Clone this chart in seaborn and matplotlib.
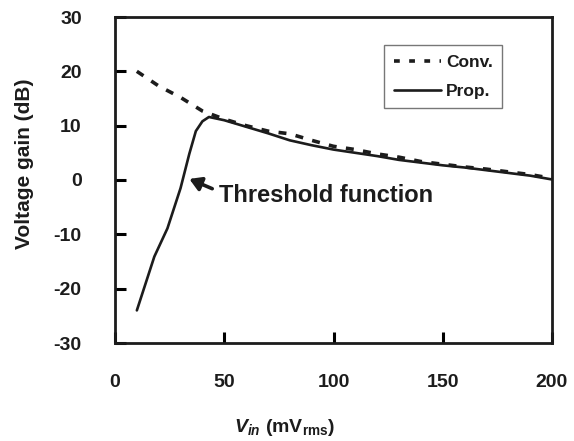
import matplotlib
matplotlib.use("Agg")
import matplotlib.pyplot as plt
import seaborn as sns
import pandas as pd

sns.set_theme(style="ticks")
ink = "#1c1c1c"
plt.rcParams.update({
    'font.family': ['Liberation Sans', 'DejaVu Sans'],
    'mathtext.fontset': 'custom',
    'mathtext.rm': 'Liberation Sans:bold',
    'mathtext.it': 'Liberation Sans:bold:italic',
    'mathtext.bf': 'Liberation Sans:bold',
})

conv_x = [10, 20, 30, 40, 50, 60, 70, 80, 90, 100, 110, 120, 130, 140, 150, 160, 170, 180, 190, 200]
conv_y = [20, 17.3, 15.2, 12.7, 11.2, 10.0, 9.0, 8.5, 7.3, 6.2, 5.6, 4.8, 4.2, 3.4, 2.9, 2.4, 2.0, 1.5, 1.0, 0.3]

prop_x = [10, 18, 24, 30, 34, 37, 40, 43, 50, 60, 70, 80, 90, 100, 110, 120, 130, 140, 150, 160, 170, 180, 190, 200]
prop_y = [-24, -14.1, -8.9, -1.5, 4.8, 9.0, 10.8, 11.6, 11.0, 9.8, 8.6, 7.3, 6.4, 5.6, 5.0, 4.4, 3.7, 3.2, 2.7, 2.3, 1.8, 1.3, 0.8, 0.1]

x_ticks = [0, 50, 100, 150, 200]
y_ticks = [-30, -20, -10, 0, 10, 20, 30]

conv = pd.DataFrame({"x": conv_x, "y": conv_y})
prop = pd.DataFrame({"x": prop_x, "y": prop_y})

fig = plt.figure(figsize=(5.74, 4.41), dpi=100)
ax = fig.add_axes([115/574, 1-343/441, (552-115)/574, (343-17)/441])

sns.lineplot(data=conv, x="x", y="y", ax=ax, color=ink, lw=2.6,
             linestyle=(0, (2.2, 2.6)), label="Conv.")
sns.lineplot(data=prop, x="x", y="y", ax=ax, color=ink, lw=1.9,
             label="Prop.")

ax.set_xlim(0, 200)
ax.set_ylim(-30, 30)
ax.set_xticks(x_ticks, [str(v) for v in x_ticks])
ax.set_yticks(y_ticks, [str(v) for v in y_ticks])
for lab in ax.get_xticklabels() + ax.get_yticklabels():
    lab.set_fontsize(14)
    lab.set_fontweight("bold")
    lab.set_color(ink)
for s in ax.spines.values():
    s.set_visible(True)
    s.set_color(ink)
    s.set_linewidth(2.0)

ax.tick_params(axis="both", which="major", direction="in", length=8, width=2.2,
               color="#000000", bottom=True, left=True, top=False, right=False)
ax.tick_params(axis="x", pad=22)
ax.tick_params(axis="y", pad=24)

ax.set_xlabel(r"$V_{in}$ (mV$_{\mathrm{rms}}$)", fontsize=14, fontweight="bold", color=ink)
ax.xaxis.set_label_coords(0.387, -0.258)
ax.xaxis.label.set_va("center")
ax.set_ylabel("Voltage gain (dB)", fontsize=15, fontweight="bold", color=ink)
ax.yaxis.set_label_coords(-0.206, 0.549)
ax.yaxis.label.set_va("center")

ax.annotate("", xy=(34.0, 0.2), xytext=(44.5, -1.6),
            arrowprops=dict(arrowstyle="-|>,head_length=0.5,head_width=0.3", color=ink, lw=2.6,
                            mutation_scale=14, shrinkA=0, shrinkB=0))
ax.text(47.5, -2.8, "Threshold function", fontsize=17, fontweight="bold",
        va="center", ha="left", color=ink)

leg = ax.legend(loc="upper right", bbox_to_anchor=(0.886, 0.914), frameon=True, fancybox=False,
                prop={"weight": "bold", "size": 12.5}, handlelength=2.7, borderpad=0.55,
                labelspacing=0.8, handletextpad=0.3, borderaxespad=0)
leg.get_frame().set_edgecolor("#555555")
leg.get_frame().set_linewidth(1.0)
for t in leg.get_texts():
    t.set_color(ink)
leg.get_lines()[0].set_linestyle((0, (1.6, 2.6)))

fig.savefig("out.png", dpi=100)
